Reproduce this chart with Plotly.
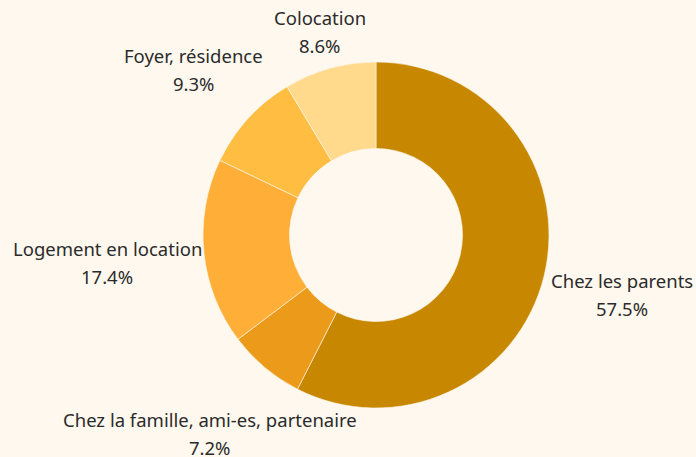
import math
import plotly.graph_objects as go

labels = ["Chez les parents", "Chez la famille, ami-es, partenaire",
          "Logement en location", "Foyer, résidence", "Colocation"]
values = [57.5, 7.2, 17.4, 9.3, 8.6]
colors = ["#C78800", "#EC9A1A", "#FFAF38", "#FFBD42", "#FFD98C"]

BG = "#FEF8EE"
W, H = 696, 457
CX, CY, R = 376, 235, 173          # pie centre / radius in pixels (from top-left)
FONT = dict(family="Noto Sans", size=18.5, color="#2B2B2B")
CHAR_W, HALF_H, GAP, LINE = 9.2, 24, 3, 14

fig = go.Figure(go.Pie(
    labels=labels,
    values=values,
    hole=0.5,
    sort=False,
    direction="clockwise",
    rotation=0,
    marker=dict(colors=colors, line=dict(color=BG, width=0.6)),
    textinfo="none",
    hoverinfo="label+percent",
    showlegend=False,
    domain=dict(x=[(CX - R) / W, (CX + R) / W],
                y=[(H - CY - R) / H, (H - CY + R) / H]),
))

# outside labels, placed along each slice's mid angle
total = sum(values)
cum = 0
for lab, v in zip(labels, values):
    mid = math.radians((cum + v / 2) / total * 360)
    cum += v
    sx, sy = math.sin(mid), math.cos(mid)
    pct = f"{v / total * 100:.1f}%"
    hw = max(len(lab), len(pct)) * CHAR_W / 2
    d = R + GAP + abs(sx) * hw + abs(sy) * HALF_H
    py = CY - sy * d
    if py > H - 24:
        d = (H - 24 - CY) / -sy
        py = CY - sy * d
    px = CX + sx * d
    for txt, dy in ((lab, -LINE), (pct, LINE)):
        fig.add_annotation(
            x=px / W, y=1 - (py + dy) / H, xref="paper", yref="paper",
            text=txt, showarrow=False,
            xanchor="center", yanchor="middle", align="center", font=FONT,
        )

fig.update_layout(
    width=W, height=H,
    margin=dict(l=0, r=0, t=0, b=0),
    paper_bgcolor=BG,
    plot_bgcolor=BG,
)

fig.write_html("out.html", config={"displayModeBar": False},
               post_script="document.body.style.margin='0';")
